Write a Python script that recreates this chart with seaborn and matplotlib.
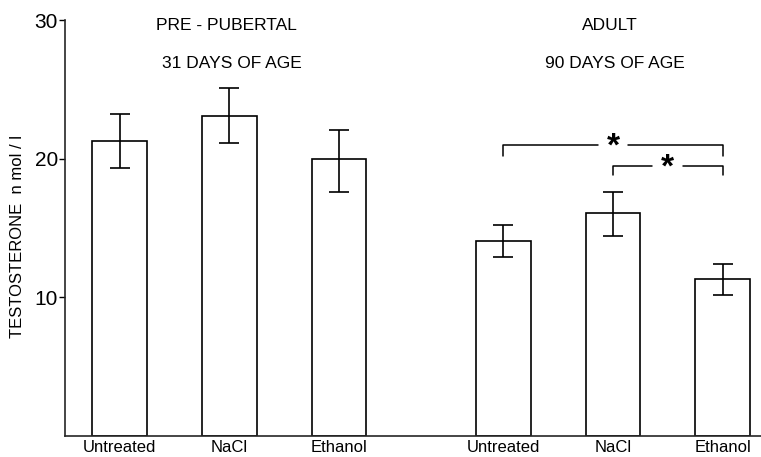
import matplotlib
matplotlib.use("Agg")
import matplotlib.pyplot as plt
import seaborn as sns
import pandas as pd

# data
groups = ["PRE - PUBERTAL", "ADULT"]
ages = ["31 DAYS OF AGE", "90 DAYS OF AGE"]
treatments = ["Untreated", "NaCl", "Ethanol"]
pre_mean = [21.3, 23.1, 20.0]
pre_low = [19.3, 21.1, 17.6]
pre_high = [23.2, 25.1, 22.1]
adult_mean = [14.1, 16.1, 11.3]
adult_low = [12.9, 14.4, 10.2]
adult_high = [15.2, 17.6, 12.4]
y_ticks = [10, 20, 30]

sns.set_style("ticks")
plt.rcParams["font.family"] = ["Liberation Sans", "DejaVu Sans"]
plt.rcParams["text.color"] = "black"
plt.rcParams["xtick.color"] = "black"
plt.rcParams["ytick.color"] = "black"

pos = [g * 3.5 + i for g in range(2) for i in range(3)]
df = pd.DataFrame({
    "pos": pos,
    "mean": pre_mean + adult_mean,
    "low": pre_low + adult_low,
    "high": pre_high + adult_high,
    "label": treatments * 2,
})

fig = plt.figure(figsize=(7.61, 4.57), dpi=100)
ax = fig.add_axes([0.0854, 0.046, 0.9146, 0.91])

sns.barplot(data=df, x="pos", y="mean", native_scale=True, width=0.5,
            color="white", edgecolor="black", linewidth=1.2, ax=ax,
            errorbar=None)
ax.errorbar(df["pos"], df["mean"],
            yerr=[df["mean"] - df["low"], df["high"] - df["mean"]],
            fmt="none", ecolor="black", elinewidth=1.2, capsize=7,
            capthick=1.2)

ax.set_xlim(-0.5, 5.85)
ax.set_ylim(0, 30)
ax.set_yticks(y_ticks)
ax.set_yticklabels([str(t) for t in y_ticks], fontsize=15)
ax.set_xticks(pos)
ax.set_xticklabels(df["label"], fontsize=12)
ax.tick_params(axis="x", length=0, pad=3)
ax.tick_params(axis="y", length=4, width=1, pad=1)
ax.set_xlabel("")
ax.set_ylabel("")
for s in ["top", "right"]:
    ax.spines[s].set_visible(False)
for s in ["left", "bottom"]:
    ax.spines[s].set_linewidth(1.2)

ax.text(-0.068, 0.48, "TESTOSTERONE  n mol / l", transform=ax.transAxes,
        rotation=90, ha="center", va="center", fontsize=12)

# group headers
for g in range(2):
    cx = g * 3.5 + 1
    ax.text(cx - 0.03, 29.6, groups[g], ha="center", va="center", fontsize=12.5)
    ax.text(cx + 0.02, 26.85, ages[g], ha="center", va="center", fontsize=12.5)

# significance brackets
def bracket(x0, x1, y, drop, xs):
    ax.plot([x0, x0, xs - 0.14], [y - drop, y, y], color="black", lw=1.1)
    ax.plot([xs + 0.14, x1, x1], [y, y, y - drop], color="black", lw=1.1)
    ax.text(xs, y - 0.15, "*", ha="center", va="center", fontsize=24,
            fontweight="bold")

bracket(pos[3], pos[5], 21.0, 0.8, pos[4])
bracket(pos[4], pos[5], 19.5, 0.7, (pos[4] + pos[5]) / 2)

fig.savefig("out.png", dpi=100)
